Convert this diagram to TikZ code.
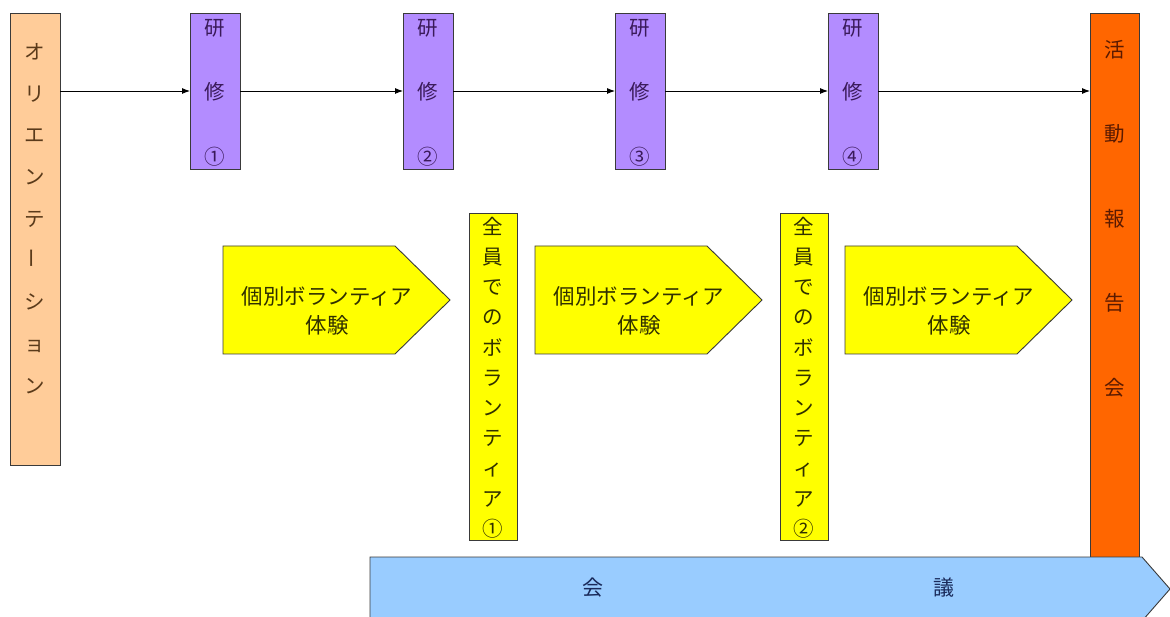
\documentclass[tikz,border=0pt]{standalone}
\usepackage{fontspec}
\newfontfamily\jp{Noto Sans CJK JP}
\usetikzlibrary{arrows.meta}
\definecolor{peach}{HTML}{FFCC99}
\definecolor{lav}{HTML}{B38CFF}
\definecolor{ylw}{HTML}{FFFF00}
\definecolor{org}{HTML}{FF6600}
\definecolor{sky}{HTML}{99CCFF}
\definecolor{edge}{HTML}{3A3A3A}
\definecolor{tpeach}{HTML}{5A3A1A}
\definecolor{tlav}{HTML}{3A1A5A}
\definecolor{torg}{HTML}{5A1A00}
\definecolor{tsky}{HTML}{1A2A5A}
\definecolor{tylw}{HTML}{303000}
\begin{document}
\begin{tikzpicture}[x=1pt,y=-1pt,
  box/.style={draw=edge,line width=0.9pt,inner sep=0pt,outer sep=0pt,anchor=north west},
  vtxt/.style={inner sep=0pt,align=center},
  pent/.style={draw=edge,line width=0.9pt,fill=ylw},
  flow/.style={-{Latex[length=8pt,width=6pt]},line width=0.9pt,black}]
\useasboundingbox[fill=white] (0,0) rectangle (1170,617);
% orientation
\node[box,fill=peach,minimum width=50pt,minimum height=452pt] (orient) at (10,13) {};
\node[vtxt,text=tpeach,font=\jp\fontsize{20.5}{41.7}\selectfont] (orientT) at (35,218.5)
  {オ\\リ\\エ\\ン\\テ\\\rotatebox{90}{ー}\\シ\\ョ\\ン};
% trainings
\foreach \i/\x/\n in {1/190/①,2/403/②,3/615/③,4/828/④}{
  \node[box,fill=lav,minimum width=50pt,minimum height=156pt] (p\i) at (\x,13) {};
  \node[vtxt,text=tlav,font=\jp\fontsize{20.5}{64.5}\selectfont] (p\i T) at (\x+25,92.5) {研\\修\\\n};
}
% report
\node[box,fill=org,minimum width=49pt,minimum height=550pt] (report) at (1090,13) {};
\node[vtxt,text=torg,font=\jp\fontsize{20.5}{84.5}\selectfont] (reportT) at (1114.5,218.5) {活\\動\\報\\告\\会};
% all-member volunteer
\foreach \i/\x/\n in {1/469/①,2/780/②}{
  \node[box,fill=ylw,minimum width=48pt,minimum height=327pt] (g\i) at (\x,213) {};
  \node[vtxt,text=tylw,font=\jp\fontsize{20.5}{30.2}\selectfont] (g\i T) at (\x+24,377.5)
    {全\\員\\で\\の\\ボ\\ラ\\ン\\テ\\ィ\\ア\\\n};
}
% individual volunteer pentagons
\foreach \i/\x in {1/223,2/535,3/845}{
  \path[pent] (\x,246) -- (\x+172,246) -- (\x+227,300) -- (\x+172,354) -- (\x,354) -- cycle;
  \node[vtxt,text=tylw,font=\jp\fontsize{21.5}{29}\selectfont] (v\i) at (\x+104,311) {個別ボランティア\\体験};
}
% meeting arrow
\begin{scope}
  \clip (0,0) rectangle (1170,617);
  \path[draw=edge,line width=0.9pt,fill=sky] (370,557) -- (1142,557) -- (1170,589) -- (1142,621) -- (370,621) -- cycle;
\end{scope}
\node[text=tsky,font=\jp\fontsize{21}{24}\selectfont,inner sep=0pt] (m1) at (593,588) {会};
\node[text=tsky,font=\jp\fontsize{21}{24}\selectfont,inner sep=0pt] (m2) at (944,588) {議};
% flow arrows
\draw[flow] (orient.east |- p1.west) -- (p1.west);
\draw[flow] (p1.east) -- (p2.west);
\draw[flow] (p2.east) -- (p3.west);
\draw[flow] (p3.east) -- (p4.west);
\draw[flow] (p4.east) -- (report.west |- p4.east);
\end{tikzpicture}
\end{document}
